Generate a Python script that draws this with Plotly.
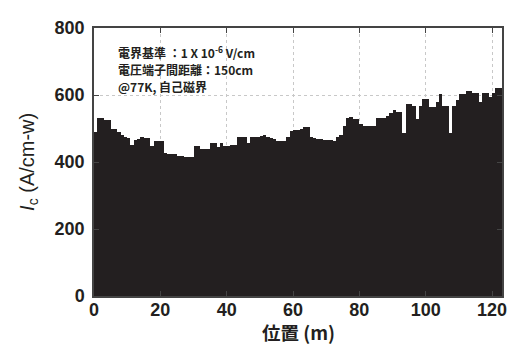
import plotly.graph_objects as go

# position bins (m), 1 m wide, starting at 0
positions = [i + 0.5 for i in range(123)]
ic_values = [
    491, 531, 531, 525, 525, 500, 500, 490, 481, 475,
    471, 450, 465, 470, 475, 472, 472, 447, 462, 462,
    462, 428, 423, 423, 423, 418, 418, 415, 415, 415,
    447, 447, 440, 440, 440, 457, 457, 445, 457, 447,
    447, 450, 450, 476, 476, 476, 457, 476, 476, 476,
    478, 481, 476, 471, 468, 464, 464, 462, 476, 494,
    496, 496, 500, 503, 503, 474, 472, 468, 468, 467,
    467, 467, 462, 476, 481, 508, 530, 535, 529, 529,
    512, 508, 508, 508, 508, 531, 531, 531, 537, 545,
    554, 549, 549, 486, 573, 573, 568, 529, 568, 587,
    587, 563, 563, 580, 602, 568, 568, 486, 568, 585,
    602, 602, 612, 612, 607, 605, 578, 607, 607, 595,
    607, 621, 621,
]
x_ticks = [0, 20, 40, 60, 80, 100, 120]
y_ticks = [0, 200, 400, 600, 800]
note_lines = [
    "電界基準 ：1 X 10<sup>-6</sup> V/cm",
    "電圧端子間距離：150cm",
    "@77K, 自己磁界",
]

ink = "#231f20"
fig = go.Figure(go.Bar(
    x=positions, y=ic_values, width=1.0,
    marker=dict(color=ink, line=dict(width=0)),
))

axis_common = dict(
    showline=True, linecolor="#444", linewidth=1.5, mirror="ticks",
    ticks="inside", ticklen=5, tickwidth=1, tickcolor="#444",
    showgrid=True, gridcolor="#c8c8c8", griddash="dot", gridwidth=1,
    zeroline=False,
    tickfont=dict(family="Liberation Sans", size=18, color=ink, weight="bold"),
)
fig.update_xaxes(range=[0, 123], tickvals=x_ticks, ticklabelstandoff=-3, **axis_common)
fig.update_yaxes(range=[0, 800], tickvals=y_ticks, ticklabelstandoff=4, **axis_common)

ann = []
ys = [0.909, 0.845, 0.781]
for t, yy in zip(note_lines, ys):
    ann.append(dict(
        text=t, x=0.053, y=yy, xref="paper", yref="paper",
        xanchor="left", yanchor="middle", showarrow=False,
        font=dict(family="Noto Sans CJK JP", size=12, color=ink, weight="bold"),
    ))
ann.append(dict(
    text="<i>I</i><sub>c</sub> (A/cm-w)", x=-0.162, y=0.5, xref="paper", yref="paper",
    xanchor="center", yanchor="middle", textangle=-90, showarrow=False,
    font=dict(family="Liberation Sans", size=20, color=ink),
))
ann.append(dict(
    text="位置 (m)", x=0.5, y=-0.134, xref="paper", yref="paper",
    xanchor="center", yanchor="middle", showarrow=False,
    font=dict(family="Noto Sans CJK JP", size=18.5, color=ink, weight="bold"),
))

# page body has an 8px margin: shrink figure so the plot area lands at the reference spot
fig.update_layout(
    width=509, height=337,
    margin=dict(l=86, r=10, t=12, b=49),
    paper_bgcolor="white", plot_bgcolor="white",
    bargap=0, showlegend=False,
    annotations=ann,
)
fig.write_html("out.html")
